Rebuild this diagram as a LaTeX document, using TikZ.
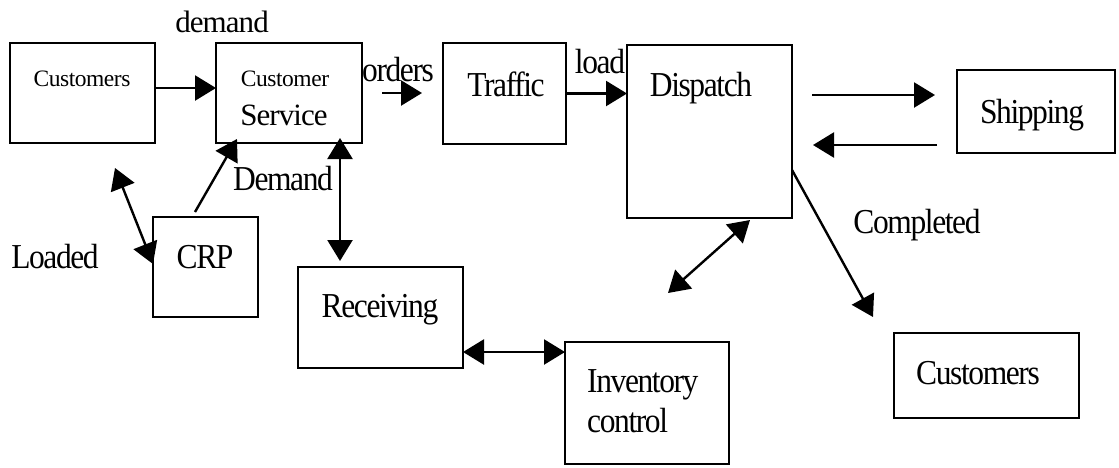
\documentclass[tikz,border=0pt]{standalone}
\usepackage{fontspec}
\setmainfont{Liberation Serif}[FakeStretch=0.9,LetterSpace=-4]
\newfontfamily\plainserif{Liberation Serif}[LetterSpace=-2]
\newfontfamily\midserif{Liberation Serif}[LetterSpace=-3]
\usetikzlibrary{arrows.meta}
\begin{document}
\begin{tikzpicture}[x=1pt,y=-1pt,
  box/.style={draw, line width=2.8pt, rectangle, inner sep=0pt, outer sep=0pt},
  lbl/.style={inner sep=0pt, anchor=base, font=\fontsize{35}{38}\selectfont},
  slbl/.style={inner sep=0pt, anchor=base, font=\plainserif\fontsize{23.5}{26}\selectfont},
  mlbl/.style={inner sep=0pt, anchor=base, font=\midserif\fontsize{31}{33}\selectfont},
  tip/.tip={Triangle[length=21pt,width=25pt]},
  conn/.style={line width=2.4pt, -tip},
  dconn/.style={line width=2.4pt, tip-tip},
]
\useasboundingbox (0,0) rectangle (1119,467);

% boxes
\node[box, minimum width=145pt, minimum height=100pt] (cust1) at (82.5,93) {};
\node[box, minimum width=146pt, minimum height=100pt] (cs) at (289,93) {};
\node[box, minimum width=123pt, minimum height=101pt] (traffic) at (504.5,93.5) {};
\node[box, minimum width=165pt, minimum height=173pt] (dispatch) at (709.5,131.5) {};
\node[box, minimum width=158pt, minimum height=83pt] (shipping) at (1036,111.5) {};
\node[box, minimum width=105pt, minimum height=100pt] (crp) at (205.5,267) {};
\node[box, minimum width=165pt, minimum height=101pt] (receiving) at (380.5,317.5) {};
\node[box, minimum width=164pt, minimum height=122pt] (inventory) at (647,403) {};
\node[box, minimum width=185pt, minimum height=85pt] (cust2) at (986.5,375.5) {};

% texts
\node[slbl] (tcust1) at (82,86) {Customers};
\node[slbl] (tcs1) at (285,86) {Customer};
\node[mlbl] (tcs2) at (284,125) {Service};
\node[lbl] (ttraffic) at (506,96) {Traffic};
\node[lbl] (tdispatch) at (701,96) {Dispatch};
\node[lbl] (tshipping) at (1032,123) {Shipping};
\node[lbl] (tcrp) at (205,268) {CRP};
\node[lbl] (treceiving) at (380,317) {Receiving};
\node[lbl, anchor=base west] (tinv1) at (587,392) {Inventory};
\node[lbl, anchor=base west] (tinv2) at (587,432) {control};
\node[lbl] (tcust2) at (978,384) {Customers};

\node[mlbl] (ldemand) at (222,32) {demand};
\node[lbl] (lorders) at (398,81) {orders};
\node[lbl] (lload) at (600,73) {load};
\node[lbl] (lDemand) at (283,190) {Demand};
\node[lbl] (lloaded) at (55,268) {Loaded};
\node[lbl] (lcompleted) at (917,233) {Completed};

% free coordinates
\coordinate (o1) at (382,93);
\coordinate (o2) at (422,93);
\coordinate (s1) at (812,95);
\coordinate (s2) at (935,95);
\coordinate (s3) at (937,145);
\coordinate (s4) at (813,145);
\coordinate (ld) at (115,168);
\coordinate (dfree) at (668,293);
\coordinate (cfree) at (873,317);
\coordinate (ri) at ([yshift=-10pt]inventory.north west);

% connectors
\draw[conn] ([yshift=5pt]cust1.east) -- ([yshift=5pt]cs.west);
\draw[conn] (o1) -- (o2);
\draw[conn] (traffic.east) -- (traffic.east -| dispatch.west);
\draw[conn] (s1) -- (s2);
\draw[conn] (s3) -- (s4);
\draw[dconn] (ld) -- ([yshift=3pt]crp.west);
\draw[conn] ([xshift=-10.5pt,yshift=5pt]crp.north) -- ([xshift=21pt,yshift=4pt]cs.south west);
\draw[dconn] ([xshift=51pt,yshift=5pt]cs.south) -- ([xshift=-40.5pt,yshift=6pt]receiving.north);
\draw[dconn] (receiving.east |- ri) -- (ri);
\draw[dconn] ([xshift=40.5pt,yshift=-2pt]dispatch.south) -- (dfree);
\draw[conn] ([yshift=-38.5pt]dispatch.east) -- (cfree);
\end{tikzpicture}
\end{document}
